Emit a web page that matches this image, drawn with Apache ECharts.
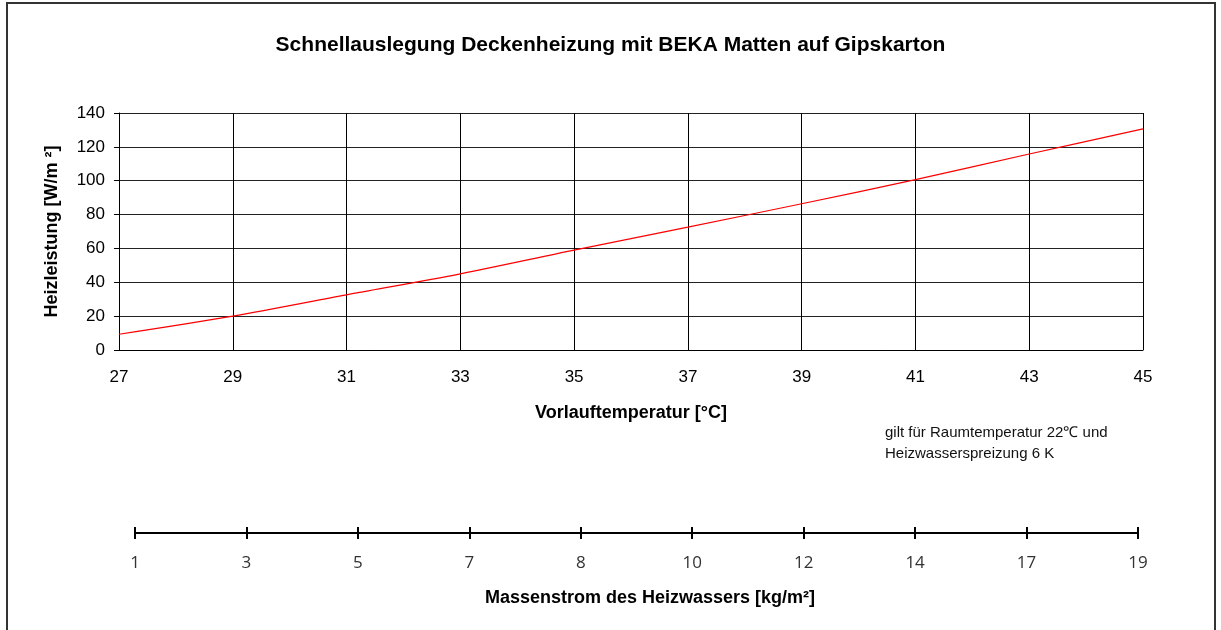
<!DOCTYPE html>
<html>
<head>
<meta charset="utf-8">
<script src="https://cdn.jsdelivr.net/npm/echarts@6/dist/echarts.min.js"></script>
<style>
  html, body { margin: 0; padding: 0; background: #fff; }
  #chart { width: 1221px; height: 630px; }
</style>
</head>
<body>
<div id="chart"></div>
<script>
// Vorlauftemperatur [°C] -> Heizleistung [W/m²]
const vorlauf = [27, 29, 31, 33, 35, 37, 39, 41, 43, 45];
const leistung = [9.3, 20, 32.6, 45, 59, 72.6, 86.4, 100.6, 115.8, 130.6];
// Massenstrom des Heizwassers, labels of the second scale
const massenstrom = ['1', '3', '5', '7', '8', '10', '12', '14', '17', '19'];

const chart = echarts.init(document.getElementById('chart'), null, { renderer: 'canvas' });

const baseFont = 'Liberation Sans, Arial, sans-serif';

const option = {
    animation: false,
    backgroundColor: '#fff',
    title: {
        text: 'Schnellauslegung Deckenheizung mit BEKA Matten auf Gipskarton',
        left: 'center',
        top: 30,
        textStyle: {
            fontFamily: baseFont,
            fontWeight: 'bold',
            fontSize: 21,
            color: '#000'
        }
    },
    grid: [
        { left: 119, right: 78, top: 113, bottom: 280 },
        { left: 135, right: 83, top: 527, height: 6 }
    ],
    xAxis: [
        {
            type: 'value',
            gridIndex: 0,
            min: 27,
            max: 45,
            interval: 2,
            name: 'Vorlauftemperatur [°C]',
            nameLocation: 'middle',
            nameGap: 54,
            nameTextStyle: { fontFamily: baseFont, fontWeight: 'bold', fontSize: 18, color: '#000' },
            axisLine: { show: true, lineStyle: { color: '#000', width: 1 } },
            axisTick: { show: false },
            axisLabel: { margin: 19, fontFamily: baseFont, fontSize: 17, color: '#000' },
            splitLine: { show: true, lineStyle: { color: '#000', width: 1 } }
        },
        {
            type: 'category',
            gridIndex: 1,
            position: 'bottom',
            data: massenstrom,
            boundaryGap: false,
            axisLine: { show: true, lineStyle: { color: '#000', width: 2 } },
            axisTick: { show: true, length: 6, interval: 0, lineStyle: { color: '#000', width: 2 } },
            axisLabel: { interval: 0, margin: 22, fontFamily: 'Open Sans, sans-serif', fontSize: 17, color: '#333' },
            splitLine: { show: false }
        },
        {
            // upper half of the crossing ticks
            type: 'category',
            gridIndex: 1,
            position: 'bottom',
            data: massenstrom,
            boundaryGap: false,
            axisLine: { show: false },
            axisTick: { show: true, inside: true, length: 6, interval: 0, lineStyle: { color: '#000', width: 2 } },
            axisLabel: { show: false },
            splitLine: { show: false }
        }
    ],
    yAxis: [
        {
            type: 'value',
            gridIndex: 0,
            min: 0,
            max: 140,
            interval: 20,
            name: 'Heizleistung [W/m ²]',
            nameLocation: 'middle',
            nameGap: 58,
            nameTextStyle: { fontFamily: baseFont, fontWeight: 'bold', fontSize: 18, color: '#000' },
            axisLine: { show: true, lineStyle: { color: '#000', width: 1 } },
            axisTick: { show: true, length: 5, lineStyle: { color: '#000' } },
            axisLabel: { margin: 14, fontFamily: baseFont, fontSize: 17, color: '#000' },
            splitLine: { show: true, lineStyle: { color: '#222', width: 1 } }
        },
        {
            type: 'value',
            gridIndex: 1,
            show: false
        }
    ],
    series: [
        {
            type: 'line',
            xAxisIndex: 0,
            yAxisIndex: 0,
            data: vorlauf.map((v, i) => [v, leistung[i]]),
            smooth: 0.3,
            showSymbol: false,
            lineStyle: { color: '#ff0000', width: 1.2 },
            itemStyle: { color: '#ff0000' }
        }
    ],
    graphic: [
        {
            type: 'rect',
            shape: { x: 7, y: 3, width: 1208, height: 650 },
            style: { fill: 'none', stroke: '#333', lineWidth: 2 },
            silent: true
        },
        {
            type: 'text',
            x: 650,
            y: 598,
            style: {
                text: 'Massenstrom des Heizwassers [kg/m²]',
                fontFamily: baseFont,
                fontWeight: 'bold',
                fontSize: 18,
                fill: '#000',
                align: 'center',
                verticalAlign: 'middle'
            }
        },
        {
            type: 'text',
            x: 885,
            y: 422,
            style: {
                text: 'gilt für Raumtemperatur 22℃ und\nHeizwasserspreizung 6 K',
                fontFamily: baseFont,
                fontSize: 15,
                lineHeight: 21,
                fill: '#111'
            }
        }
    ]
};

chart.setOption(option);
</script>
</body>
</html>
